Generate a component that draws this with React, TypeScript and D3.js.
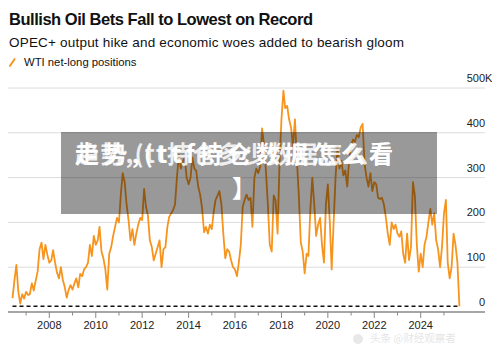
import React from "react";
import * as d3 from "d3";

const W = 500;
const H = 346;

const title = "Bullish Oil Bets Fall to Lowest on Record";
const subtitle = "OPEC+ output hike and economic woes added to bearish gloom";
const legendLabel = "WTI net-long positions";

const yTicks = [0, 100, 200, 300, 400, 500];
const labelYears = [2008, 2010, 2012, 2014, 2016, 2018, 2020, 2022, 2024];
const minorYears = [2007, 2009, 2011, 2013, 2015, 2017, 2019, 2021, 2023, 2025];

// net-long positions, thousands of contracts, one reading per month
const v2006 = [31, 70, 105, 45, 19, 40, 30]; // from June
const v2007 = [45, 38, 40, 64, 48, 70, 90, 140, 155, 118, 150, 128];
const v2008 = [110, 115, 138, 110, 88, 75, 100, 72, 55, 32, 50, 60];
const v2009 = [50, 65, 75, 55, 85, 80, 95, 100, 110, 150, 125, 170];
const v2010 = [150, 160, 190, 135, 120, 95, 50, 130, 145, 170, 190, 210];
const v2011 = [200, 265, 310, 290, 240, 205, 160, 185, 150, 175, 195, 210];
const v2012 = [205, 275, 235, 215, 160, 145, 115, 130, 145, 160, 100, 140];
const v2013 = [145, 190, 212, 220, 227, 240, 300, 350, 320, 335, 345, 300];
const v2014 = [285, 300, 345, 320, 315, 280, 262, 232, 178, 190, 175, 195];
const v2015 = [185, 225, 250, 260, 270, 240, 175, 120, 140, 135, 115, 100];
const v2016 = [95, 80, 110, 150, 235, 250, 262, 250, 255, 190, 300, 320];
const v2017 = [310, 325, 410, 375, 316, 240, 150, 135, 260, 249, 175, 330];
const v2018 = [430, 494, 455, 460, 430, 412, 370, 430, 340, 260, 155, 135];
const v2019 = [86, 130, 125, 230, 300, 240, 170, 195, 210, 150, 110, 240];
const v2020 = [285, 200, 95, 200, 300, 370, 320, 338, 305, 316, 280, 340];
const v2021 = [372, 385, 380, 395, 390, 412, 420, 330, 300, 280, 310, 270];
const v2022 = [290, 285, 255, 252, 255, 240, 212, 175, 150, 200, 185, 195];
const v2023 = [175, 168, 180, 130, 110, 175, 116, 145, 290, 260, 150, 90];
const v2024 = [130, 100, 150, 168, 200, 230, 195, 220, 160, 140, 100, 145];
const v2025 = [220, 250, 110, 75, 100, 175, 150, 110, 13]; // to September

const yearRows: [number, number, number[]][] = [
  [2006, 5, v2006], [2007, 0, v2007], [2008, 0, v2008], [2009, 0, v2009],
  [2010, 0, v2010], [2011, 0, v2011], [2012, 0, v2012], [2013, 0, v2013],
  [2014, 0, v2014], [2015, 0, v2015], [2016, 0, v2016], [2017, 0, v2017],
  [2018, 0, v2018], [2019, 0, v2019], [2020, 0, v2020], [2021, 0, v2021],
  [2022, 0, v2022], [2023, 0, v2023], [2024, 0, v2024], [2025, 0, v2025],
];

const series = yearRows.flatMap(([yr, start, vals]) =>
  vals.map((v, i) => ({ date: new Date(yr, start + i, 1), value: v }))
);

const FONT = "'Liberation Sans', Arial, Helvetica, sans-serif";
const ORANGE = "#f7941d";

export default function App() {
  const x = d3
    .scaleTime()
    .domain([new Date(2008, 0, 1), new Date(2024, 0, 1)])
    .range([49.3, 420.7]);
  const y = d3.scaleLinear().domain([0, 500]).range([312, 88]);

  const line = d3
    .line<{ date: Date; value: number }>()
    .x((d) => x(d.date))
    .y((d) => y(d.value));

  const last = series[series.length - 1];
  const first = series[0];

  return (
    <div style={{ position: "absolute", left: 0, top: 0, background: "#fff" }}>
      <svg width={W} height={H} style={{ display: "block" }}>
        <rect width={W} height={H} fill="#fff" />
        <text x={9} y={25} fontFamily={FONT} fontWeight="bold" fontSize={16.5} fill="#111" textLength={304}>
          {title}
        </text>
        <text x={9} y={47} fontFamily={FONT} fontSize={13.5} fill="#111" textLength={395}>
          {subtitle}
        </text>
        <line x1={9.5} y1={66.5} x2={15} y2={58.5} stroke={ORANGE} strokeWidth={2} />
        <text x={24} y={66} fontFamily={FONT} fontSize={11.3} fill="#111">
          {legendLabel}
        </text>

        {yTicks.map((t) => (
          <g key={t}>
            {t > 0 && (
              <line x1={8} x2={485} y1={y(t)} y2={y(t)} stroke="#dcdcdc" strokeWidth={1} />
            )}
            <text x={485} y={y(t) - 6} textAnchor="end" fontFamily={FONT} fontSize={11} fill="#222">
              {t}
            </text>
            {t === 500 && (
              <text x={485} y={y(t) - 6} fontFamily={FONT} fontSize={11} fill="#222">
                K
              </text>
            )}
          </g>
        ))}

        <path d={line(series) ?? ""} fill="none" stroke={ORANGE} strokeWidth={1.8} strokeLinejoin="round" />

        <line
          x1={x(first.date)}
          x2={x(last.date)}
          y1={y(last.value)}
          y2={y(last.value)}
          stroke="#111"
          strokeWidth={1.5}
          strokeDasharray="4,3"
        />

        <line x1={8} x2={485} y1={312} y2={312} stroke="#888" strokeWidth={1.5} />
        {labelYears.map((yr) => (
          <g key={yr}>
            <line x1={x(new Date(yr, 0, 1))} x2={x(new Date(yr, 0, 1))} y1={312} y2={318} stroke="#888" strokeWidth={1} />
            <text x={x(new Date(yr, 0, 1))} y={329} textAnchor="middle" fontFamily={FONT} fontSize={11} fill="#222">
              {yr}
            </text>
          </g>
        ))}
        {minorYears.map((yr) => (
          <line key={yr} x1={x(new Date(yr, 0, 1))} x2={x(new Date(yr, 0, 1))} y1={312} y2={315.5} stroke="#888" strokeWidth={1} />
        ))}

        <rect x={61} y={132} width={376} height={82} fill="#000" fillOpacity={0.4} />
        <g fontFamily="'Noto Sans CJK SC', sans-serif" fontWeight="bold" fontSize={24} fill="#fff">
          <text x={75} y={163} textLength={318} opacity={0.85}>
            趋势,(tt持仓多少数据怎么看
          </text>
          <text x={75} y={163} textLength={318}>
            走势,(ttf持仓数据怎么看
          </text>
          <text x={232} y={197}>】</text>
        </g>

        <circle cx={358} cy={339} r={5} fill="#e8e8e8" />
        <text x={370} y={342} fontFamily="'Noto Sans CJK SC', sans-serif" fontSize={10.5} fill="#e6e6e6">
          头条 @财经观察者
        </text>
      </svg>
    </div>
  );
}
